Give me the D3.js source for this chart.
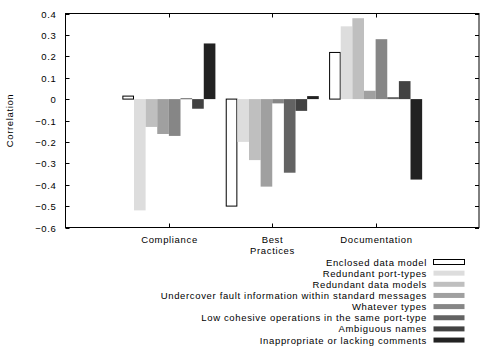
<!DOCTYPE html>
<html>
<head>
<meta charset="utf-8">
<style>
  body { margin: 0; background: #fff; }
  text { font-family: "Liberation Sans", Arial, sans-serif; font-size: 9.5px; letter-spacing: 0.65px; fill: #000; }
</style>
</head>
<body>
<div id="chart"></div>
<script src="https://d3js.org/d3.v7.min.js"></script>
<script>
const categories = ["Compliance", "Best\nPractices", "Documentation"];
const seriesNames = [
  "Enclosed data model",
  "Redundant port-types",
  "Redundant data models",
  "Undercover fault information within standard messages",
  "Whatever types",
  "Low cohesive operations in the same port-type",
  "Ambiguous names",
  "Inappropriate or lacking comments"
];
const seriesColors = ["#ffffff", "#dddddd", "#bfbfbf", "#a0a0a0", "#868686", "#636363", "#424242", "#222222"];
// values[series][category]
const values = [
  [0.014, -0.50, 0.218],
  [-0.52, -0.20, 0.34],
  [-0.13, -0.285, 0.378],
  [-0.163, -0.409, 0.039],
  [-0.172, -0.02, 0.28],
  [0.004, -0.344, 0.009],
  [-0.045, -0.055, 0.084],
  [0.26, 0.014, -0.376]
];
const yTicks = [0.4, 0.3, 0.2, 0.1, 0, -0.1, -0.2, -0.3, -0.4, -0.5, -0.6];

const W = 500, H = 350;
const L = 65.5, R = 479, T = 13.5, B = 227.5;

const svg = d3.select('#chart').append('svg').attr('width', W).attr('height', H);

const x = d3.scaleLinear().domain([0, 4]).range([L, R]);
const y = d3.scaleLinear().domain([-0.6, 0.4]).range([B, T]);
const bw = 0.9 / seriesNames.length;

// bars
values.forEach((vals, s) => {
  svg.append('g').selectAll('rect')
    .data(vals)
    .enter().append('rect')
    .attr('x', (d, c) => x(c + 1 - 0.45 + s * bw) + (s === 0 ? 0.5 : 0))
    .attr('width', x(bw) - x(0) - (s === 0 ? 1 : 0))
    .attr('y', d => y(Math.max(d, 0)))
    .attr('height', d => Math.max(1, Math.abs(y(d) - y(0))))
    .attr('fill', seriesColors[s])
    .attr('stroke', s === 0 ? '#000' : 'none')
    .attr('stroke-width', 1);
});

// frame
svg.append('rect').attr('x', L).attr('y', T).attr('width', R - L).attr('height', B - T)
  .attr('fill', 'none').attr('stroke', '#000').attr('stroke-width', 1);

// y ticks (inward, both sides)
const tk = 4;
const yg = svg.append('g');
yTicks.forEach(t => {
  const yy = Math.round(y(t)) + 0.5;
  yg.append('line').attr('x1', L).attr('x2', L + tk).attr('y1', yy).attr('y2', yy).attr('stroke', '#000');
  yg.append('line').attr('x1', R - tk).attr('x2', R).attr('y1', yy).attr('y2', yy).attr('stroke', '#000');
  yg.append('text').attr('x', L - 9).attr('y', yy + 3.5).attr('text-anchor', 'end')
    .text(t === 0 ? '0' : d3.format('.1f')(t));
});

// x ticks and labels
const xg = svg.append('g');
categories.forEach((c, i) => {
  const xx = Math.round(x(i + 1)) + 0.5;
  xg.append('line').attr('x1', xx).attr('x2', xx).attr('y1', B).attr('y2', B - tk).attr('stroke', '#000');
  xg.append('line').attr('x1', xx).attr('x2', xx).attr('y1', T).attr('y2', T + tk).attr('stroke', '#000');
  c.split('\n').forEach((line, j) => {
    xg.append('text').attr('x', xx).attr('y', 243 + j * 11).attr('text-anchor', 'middle').text(line);
  });
});

// y label
svg.append('text').attr('transform', `translate(13, ${(T + B) / 2}) rotate(-90)`)
  .attr('text-anchor', 'middle').text('Correlation');

// legend
const lg = svg.append('g');
seriesNames.forEach((n, i) => {
  const cy = 262 + i * 11.15;
  lg.append('text').attr('x', 427).attr('y', cy + 3.5).attr('text-anchor', 'end').text(n);
  lg.append('rect').attr('x', 433.5).attr('y', cy - 2.5).attr('width', 31).attr('height', 5)
    .attr('fill', seriesColors[i]).attr('stroke', i === 0 ? '#000' : 'none');
});
</script>
</body>
</html>
